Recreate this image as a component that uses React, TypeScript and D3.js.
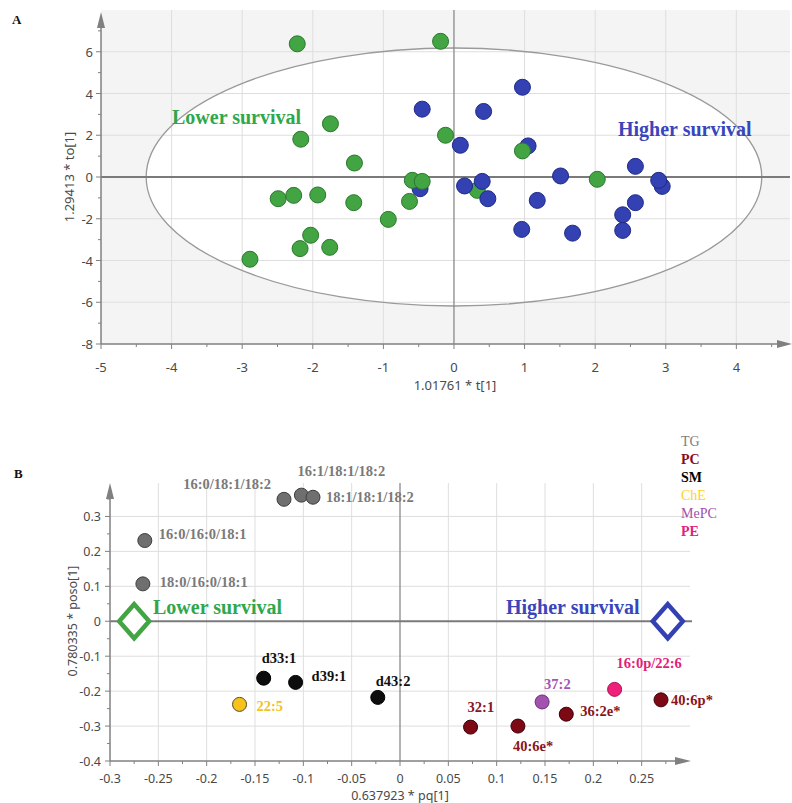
import React from "react";
import * as d3 from "d3";

// ---------- Panel A data: OPLS-DA scores ----------
type Score = { g: "L" | "H"; t: number; to: number };
const scoresA: Score[] = [
  { g: "L", t: 0.33, to: -0.64 },
  { g: "H", t: 0.97, to: 4.3 },
  { g: "H", t: -0.45, to: 3.25 },
  { g: "H", t: 0.42, to: 3.14 },
  { g: "H", t: 0.09, to: 1.52 },
  { g: "H", t: 1.05, to: 1.49 },
  { g: "H", t: 2.57, to: 0.51 },
  { g: "H", t: 1.51, to: 0.05 },
  { g: "H", t: 2.95, to: -0.45 },
  { g: "H", t: 2.9, to: -0.16 },
  { g: "H", t: -0.48, to: -0.56 },
  { g: "H", t: 0.15, to: -0.43 },
  { g: "H", t: 0.4, to: -0.21 },
  { g: "H", t: 0.48, to: -1.04 },
  { g: "H", t: 1.18, to: -1.12 },
  { g: "H", t: 2.57, to: -1.23 },
  { g: "H", t: 2.39, to: -1.81 },
  { g: "H", t: 2.39, to: -2.56 },
  { g: "H", t: 0.96, to: -2.51 },
  { g: "H", t: 1.68, to: -2.69 },
  { g: "L", t: -2.22, to: 6.38 },
  { g: "L", t: -0.19, to: 6.5 },
  { g: "L", t: -1.75, to: 2.55 },
  { g: "L", t: -2.17, to: 1.81 },
  { g: "L", t: -1.41, to: 0.67 },
  { g: "L", t: -0.12, to: 2.0 },
  { g: "L", t: 0.97, to: 1.25 },
  { g: "L", t: -2.49, to: -1.04 },
  { g: "L", t: -2.27, to: -0.88 },
  { g: "L", t: -1.93, to: -0.86 },
  { g: "L", t: -1.42, to: -1.23 },
  { g: "L", t: -0.93, to: -2.03 },
  { g: "L", t: -2.03, to: -2.79 },
  { g: "L", t: -2.18, to: -3.43 },
  { g: "L", t: -1.76, to: -3.37 },
  { g: "L", t: -2.89, to: -3.94 },
  { g: "L", t: -0.63, to: -1.17 },
  { g: "L", t: -0.59, to: -0.16 },
  { g: "L", t: -0.45, to: -0.21 },
  { g: "L", t: 2.03, to: -0.11 },
];
const xTicksA = [-5, -4, -3, -2, -1, 0, 1, 2, 3, 4];
const yTicksA = [-8, -6, -4, -2, 0, 2, 4, 6];
const ellipseA = { cx: 0, cy: 0, rx: 4.36, ry: 6.18 };

// ---------- Panel B data: loadings ----------
type Load = { cls: string; name: string; pq: number; poso: number };
const loadingsB: Load[] = [
  { cls: "TG", name: "16:0/18:1/18:2", pq: -0.12, poso: 0.349 },
  { cls: "TG", name: "16:1/18:1/18:2", pq: -0.102, poso: 0.361 },
  { cls: "TG", name: "18:1/18:1/18:2", pq: -0.09, poso: 0.355 },
  { cls: "TG", name: "16:0/16:0/18:1", pq: -0.264, poso: 0.231 },
  { cls: "TG", name: "18:0/16:0/18:1", pq: -0.266, poso: 0.107 },
  { cls: "SM", name: "d33:1", pq: -0.141, poso: -0.163 },
  { cls: "SM", name: "d39:1", pq: -0.108, poso: -0.175 },
  { cls: "SM", name: "d43:2", pq: -0.023, poso: -0.218 },
  { cls: "ChE", name: "22:5", pq: -0.166, poso: -0.238 },
  { cls: "PC", name: "32:1", pq: 0.073, poso: -0.303 },
  { cls: "PC", name: "40:6e*", pq: 0.122, poso: -0.3 },
  { cls: "PC", name: "36:2e*", pq: 0.172, poso: -0.266 },
  { cls: "PC", name: "40:6p*", pq: 0.27, poso: -0.225 },
  { cls: "MePC", name: "37:2", pq: 0.147, poso: -0.231 },
  { cls: "PE", name: "16:0p/22:6", pq: 0.222, poso: -0.195 },
];
const classesB = ["TG", "PC", "SM", "ChE", "MePC", "PE"];
const xTicksB = [-0.3, -0.25, -0.2, -0.15, -0.1, -0.05, 0, 0.05, 0.1, 0.15, 0.2, 0.25];
const yTicksB = [-0.4, -0.3, -0.2, -0.1, 0, 0.1, 0.2, 0.3];
const groupMarkersB = [
  { g: "L", label: "Lower survival", pq: -0.275, poso: 0 },
  { g: "H", label: "Higher survival", pq: 0.277, poso: 0 },
];

// ---------- styles ----------
const groupStyle: Record<string, { fill: string; stroke: string; text: string }> = {
  L: { fill: "#42a443", stroke: "#2a782b", text: "#2fa74d" },
  H: { fill: "#3341b3", stroke: "#1e2a86", text: "#3a45bb" },
};
const classStyle: Record<string, { fill: string; stroke: string; label: string; legend: string; weight: string }> = {
  TG: { fill: "#6f6f6f", stroke: "#3e3e3e", label: "#7a7a7a", legend: "#7d7d7d", weight: "normal" },
  PC: { fill: "#7c0914", stroke: "#3b0006", label: "#8a1420", legend: "#8a0a16", weight: "bold" },
  SM: { fill: "#0d0d0d", stroke: "#000", label: "#111", legend: "#000", weight: "bold" },
  ChE: { fill: "#f7c21c", stroke: "#5a4a20", label: "#f2c21e", legend: "#ffd320", weight: "normal" },
  MePC: { fill: "#a251ae", stroke: "#6e2c78", label: "#a455b2", legend: "#a050ac", weight: "normal" },
  PE: { fill: "#f01f7c", stroke: "#a8104e", label: "#e2207a", legend: "#e4207a", weight: "bold" },
};
const labelOffset: Record<string, [number, number, "start" | "end"]> = {
  "16:0/18:1/18:2": [-13, -15, "end"],
  "16:1/18:1/18:2": [-4, -24, "start"],
  "18:1/18:1/18:2": [13, 0, "start"],
  "16:0/16:0/18:1": [14, -7, "start"],
  "18:0/16:0/18:1": [17, -2, "start"],
  "d33:1": [-2, -20, "start"],
  "d39:1": [16, -6, "start"],
  "d43:2": [-2, -16, "start"],
  "22:5": [17, 2, "start"],
  "32:1": [-3, -20, "start"],
  "40:6e*": [-5, 20, "start"],
  "36:2e*": [14, -3, "start"],
  "40:6p*": [10, 0, "start"],
  "37:2": [2, -18, "start"],
  "16:0p/22:6": [2, -26, "start"],
};

const tickFont = "'Noto Sans', 'Open Sans', sans-serif";
const serif = "'Liberation Serif', 'DejaVu Serif', serif";
const axisCol = "#808080";
const gridCol = "#dedede";
const tickTextCol = "#4a4a4a";

function PanelA() {
  const x = d3.scaleLinear().domain([-5, 4.76]).range([101, 790]);
  const y = d3.scaleLinear().domain([-8, 8]).range([344, 10]);
  const minorX = d3.range(-5, 4.6, 0.5);
  const minorY = d3.range(-8, 7.1, 1);
  return (
    <g>
      <defs>
        <clipPath id="clipA">
          <rect x={101} y={10} width={689} height={334} />
        </clipPath>
      </defs>
      <rect x={101} y={10} width={689} height={334} fill="#f4f4f4" />
      <g clipPath="url(#clipA)">
        <ellipse
          cx={x(ellipseA.cx)}
          cy={y(ellipseA.cy)}
          rx={x(ellipseA.rx) - x(0)}
          ry={y(0) - y(ellipseA.ry)}
          fill="#fff"
        />
        {xTicksA.filter((v) => v !== -5 && v !== 0).map((v) => (
          <line key={"gx" + v} x1={x(v)} x2={x(v)} y1={10} y2={344} stroke={gridCol} strokeWidth={1} />
        ))}
        {yTicksA.filter((v) => v !== -8 && v !== 0).map((v) => (
          <line key={"gy" + v} x1={101} x2={790} y1={y(v)} y2={y(v)} stroke={gridCol} strokeWidth={1} />
        ))}
        <ellipse
          cx={x(ellipseA.cx)}
          cy={y(ellipseA.cy)}
          rx={x(ellipseA.rx) - x(0)}
          ry={y(0) - y(ellipseA.ry)}
          fill="none"
          stroke="#9a9a9a"
          strokeWidth={1.3}
        />
        <line x1={x(0)} x2={x(0)} y1={10} y2={344} stroke="#8a8a8a" strokeWidth={1.3} />
        <line x1={101} x2={790} y1={y(0)} y2={y(0)} stroke="#7a7a7a" strokeWidth={1.8} />
      </g>
      {/* axes */}
      <line x1={101} x2={101} y1={344} y2={22} stroke={axisCol} strokeWidth={1.5} />
      <path d="M101,12 L97,28 L105,28 Z" fill={axisCol} />
      <line x1={101} x2={782} y1={344} y2={344} stroke={axisCol} strokeWidth={1.5} />
      <path d="M792,344 L777,340 L777,348 Z" fill={axisCol} />
      {minorX.map((v) => (
        <line key={"tx" + v} x1={x(v)} x2={x(v)} y1={344} y2={Number.isInteger(v) ? 349 : 347} stroke={axisCol} />
      ))}
      {minorY.map((v) => (
        <line key={"ty" + v} x1={101} x2={v % 2 === 0 ? 96 : 98} y1={y(v)} y2={y(v)} stroke={axisCol} />
      ))}
      {xTicksA.map((v) => (
        <text key={"lx" + v} x={x(v)} y={367} textAnchor="middle" dominantBaseline="central" fontSize={13} fill={tickTextCol} fontFamily={tickFont}>
          {v}
        </text>
      ))}
      {yTicksA.map((v) => (
        <text key={"ly" + v} x={93} y={y(v)} textAnchor="end" dominantBaseline="central" fontSize={13} fill={tickTextCol} fontFamily={tickFont}>
          {v}
        </text>
      ))}
      <text x={455} y={385} textAnchor="middle" dominantBaseline="central" fontSize={13} fill={tickTextCol} fontFamily={tickFont}>
        1.01761 * t[1]
      </text>
      <text transform="translate(69,177) rotate(-90)" textAnchor="middle" dominantBaseline="central" fontSize={13} fill={tickTextCol} fontFamily={tickFont}>
        1.29413 * to[1]
      </text>
      {/* points */}
      {scoresA.map((d, i) => (
        <circle key={"p" + i} cx={x(d.t)} cy={y(d.to)} r={8} fill={groupStyle[d.g].fill} stroke={groupStyle[d.g].stroke} strokeWidth={1} />
      ))}
      <text x={172} y={117} dominantBaseline="central" fontSize={20} fontWeight="bold" fill={groupStyle.L.text} fontFamily={serif}>
        Lower survival
      </text>
      <text x={618} y={129} dominantBaseline="central" fontSize={20} fontWeight="bold" fill={groupStyle.H.text} fontFamily={serif}>
        Higher survival
      </text>
      <text x={12} y={24} fontSize={13} fontWeight="bold" fill="#111" fontFamily={serif}>
        A
      </text>
    </g>
  );
}

function PanelB() {
  const x = d3.scaleLinear().domain([-0.3, 0.3]).range([110, 690]);
  const y = d3.scaleLinear().domain([-0.4, 0.4]).range([761, 481.5]);
  const minorX = d3.range(-0.3, 0.2751, 0.025);
  const minorY = d3.range(-0.4, 0.351, 0.05);
  const fmt = (v: number) => (Math.abs(v) < 1e-9 ? "0" : String(+v.toFixed(2)));
  const top = 483;
  return (
    <g>
      {xTicksB.filter((v) => Math.abs(v + 0.3) > 1e-9 && Math.abs(v) > 1e-9).map((v) => (
        <line key={"gx" + v} x1={x(v)} x2={x(v)} y1={top} y2={761} stroke={gridCol} />
      ))}
      {yTicksB.filter((v) => Math.abs(v + 0.4) > 1e-9 && Math.abs(v) > 1e-9).map((v) => (
        <line key={"gy" + v} x1={110} x2={690} y1={y(v)} y2={y(v)} stroke={gridCol} />
      ))}
      <line x1={x(0)} x2={x(0)} y1={top} y2={761} stroke="#8a8a8a" strokeWidth={1.3} />
      <line x1={110} x2={692} y1={y(0)} y2={y(0)} stroke="#7a7a7a" strokeWidth={1.8} />
      {/* axes */}
      <line x1={110} x2={110} y1={761} y2={494} stroke={axisCol} strokeWidth={1.5} />
      <path d="M110,483 L106,499 L114,499 Z" fill={axisCol} />
      <line x1={110} x2={680} y1={761} y2={761} stroke={axisCol} strokeWidth={1.5} />
      <path d="M691,761 L675,757 L675,765 Z" fill={axisCol} />
      {minorX.map((v, i) => (
        <line key={"tx" + i} x1={x(v)} x2={x(v)} y1={761} y2={i % 2 === 0 ? 766 : 764} stroke={axisCol} />
      ))}
      {minorY.map((v, i) => (
        <line key={"ty" + i} x1={110} x2={i % 2 === 0 ? 105 : 107} y1={y(v)} y2={y(v)} stroke={axisCol} />
      ))}
      {xTicksB.map((v) => (
        <text key={"lx" + v} x={x(v)} y={778} textAnchor="middle" dominantBaseline="central" fontSize={12.5} fill={tickTextCol} fontFamily={tickFont}>
          {fmt(v)}
        </text>
      ))}
      {yTicksB.map((v) => (
        <text key={"ly" + v} x={101} y={y(v)} textAnchor="end" dominantBaseline="central" fontSize={12.5} fill={tickTextCol} fontFamily={tickFont}>
          {fmt(v)}
        </text>
      ))}
      <text x={400} y={795} textAnchor="middle" dominantBaseline="central" fontSize={12.5} fill={tickTextCol} fontFamily={tickFont}>
        0.637923 * pq[1]
      </text>
      <text transform="translate(72,621) rotate(-90)" textAnchor="middle" dominantBaseline="central" fontSize={12.5} fill={tickTextCol} fontFamily={tickFont}>
        0.780335 * poso[1]
      </text>
      {/* group diamonds */}
      {groupMarkersB.map((m) => {
        const cx = x(m.pq);
        const cy = y(m.poso);
        return (
          <path key={m.g} d={`M${cx},${cy - 17} L${cx + 15},${cy} L${cx},${cy + 17} L${cx - 15},${cy} Z`} fill="#fff" stroke={groupStyle[m.g].fill} strokeWidth={4.5} />
        );
      })}
      <text x={153} y={607} dominantBaseline="central" fontSize={20} fontWeight="bold" fill={groupStyle.L.text} fontFamily={serif}>
        Lower survival
      </text>
      <text x={506} y={607} dominantBaseline="central" fontSize={20} fontWeight="bold" fill={groupStyle.H.text} fontFamily={serif}>
        Higher survival
      </text>
      {/* loadings */}
      {loadingsB.map((d) => (
        <circle key={"c" + d.name} cx={x(d.pq)} cy={y(d.poso)} r={7} fill={classStyle[d.cls].fill} stroke={classStyle[d.cls].stroke} strokeWidth={1} />
      ))}
      {loadingsB.map((d) => {
        const [dx, dy, anchor] = labelOffset[d.name];
        return (
          <text key={"t" + d.name} x={x(d.pq) + dx} y={y(d.poso) + dy} textAnchor={anchor} dominantBaseline="central" fontSize={14.5} fontWeight="bold" fill={classStyle[d.cls].label} fontFamily={serif}>
            {d.name}
          </text>
        );
      })}
      {/* legend */}
      {classesB.map((c, i) => (
        <text key={"lg" + c} x={681} y={441 + i * 18} dominantBaseline="central" fontSize={14} fontWeight={classStyle[c].weight} fill={classStyle[c].legend} fontFamily={serif}>
          {c}
        </text>
      ))}
      <text x={14} y={478} fontSize={13} fontWeight="bold" fill="#111" fontFamily={serif}>
        B
      </text>
    </g>
  );
}

export default function App() {
  return (
    <svg width={792} height={803} style={{ position: "absolute", left: 0, top: 0, background: "#fff" }}>
      <rect width={792} height={803} fill="#fff" />
      <PanelA />
      <PanelB />
    </svg>
  );
}
